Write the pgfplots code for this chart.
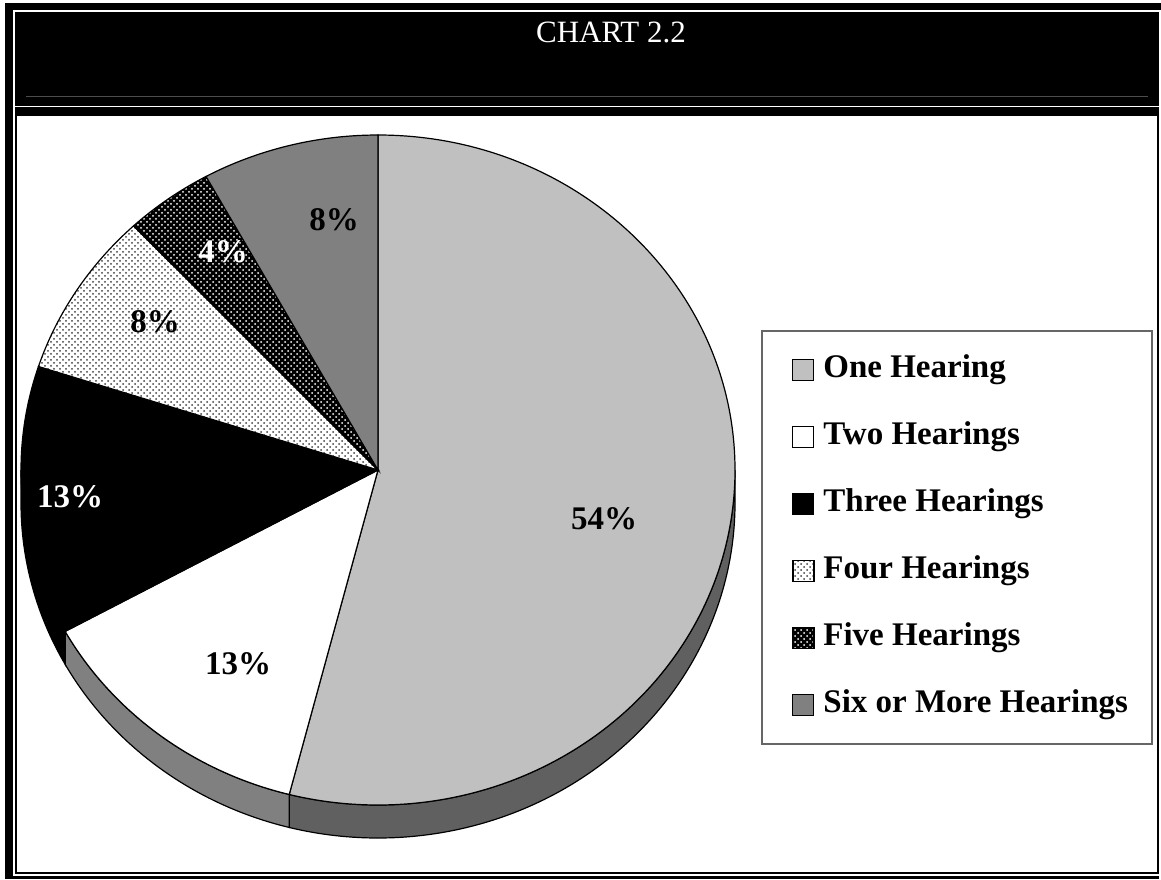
\documentclass[border=0pt]{standalone}
\usepackage{pgfplots}
\pgfplotsset{compat=1.18}
\usepackage{fontspec}
\setmainfont{Liberation Serif}
\usetikzlibrary{patterns}
\definecolor{one}{HTML}{C0C0C0}
\definecolor{six}{HTML}{808080}
\definecolor{oneside}{HTML}{606060}
\definecolor{twoside}{HTML}{808080}
\tikzset{
 s1/.style={fill=one},
 s2/.style={fill=white},
 s3/.style={fill=black},
 s4/.style={preaction={fill=white}, pattern=crosshatch dots, pattern color=black!75},
 s5/.style={preaction={fill=black}, pattern=crosshatch dots, pattern color=white},
 s6/.style={fill=six},
}
\newcommand\lbl{\fontsize{16.5}{19}\selectfont\bfseries}
\begin{document}
\begin{tikzpicture}
\begin{axis}[x=0.5pt,y=0.5pt,xmin=0,xmax=1161,ymin=0,ymax=879,y dir=reverse,hide axis,clip=false,
 legend image code/.code={\path[#1,draw=black,line width=0.5pt] (0pt,-5.25pt) rectangle (10.5pt,5.25pt);},
 legend style={draw=none, fill=none, at={(axis cs:792,354)}, anchor=north west, inner sep=0pt,
   row sep=18.2pt, column sep=4.5pt, font=\lbl,
   nodes={inner sep=0pt, text height=11.5pt, text depth=3.8pt}, cells={anchor=west}},
]
% frame
\fill[white] (axis cs:0,0) rectangle (axis cs:1161,879);
\fill[black] (axis cs:5,3) rectangle (axis cs:1159,878.5);
\fill[black] (axis cs:1159,3) rectangle (axis cs:1161,10);
\draw[white, line width=0.75pt] (axis cs:14,11) rectangle (axis cs:1160,875);
\draw[white, line width=0.75pt] (axis cs:14,106.5) -- (axis cs:1160,106.5);
\draw[black!70, line width=0.5pt] (axis cs:26,96) -- (axis cs:1148,96);
\fill[white] (axis cs:17,116) rectangle (axis cs:1157,872);
\node[white, anchor=base, font=\fontsize{15.5}{18}\selectfont] at (axis cs:611,42) {CHART 2.2};
% pie (values in percent, clockwise from 12 o'clock)
\pgfplotsextra{
\foreach \v/\st/\sc [remember=\cend as \cstart (initially 0)] in
   {54/s1/oneside, 13/s2/twoside, 13/s3/black, 8/s4/white, 4/s5/black, 8/s6/six}{
  \pgfmathsetmacro\cend{\cstart+\v}
  \pgfmathsetmacro\pa{90-3.6*\cstart}
  \pgfmathsetmacro\pb{90-3.6*\cend}
  \pgfmathsetmacro\qa{min(\pa,0)}
  \pgfmathsetmacro\qb{max(\pb,-180)}
  \ifdim\qa pt>\qb pt
    \filldraw[fill=\sc, draw=black, line width=0.6pt] (axis cs:378,470) ++(\qa:178.5pt and 167.5pt)
      arc[start angle=\qa, end angle=\qb, x radius=178.5pt, y radius=167.5pt]
      -- ++(0,-16.5pt)
      arc[start angle=\qb, end angle=\qa, x radius=178.5pt, y radius=167.5pt] -- cycle;
  \fi
  \path[\st, draw=black, line width=0.6pt] (axis cs:378,470) -- ++(\pa:178.5pt and 167.5pt)
      arc[start angle=\pa, end angle=\pb, x radius=178.5pt, y radius=167.5pt] -- cycle;
}
\node[font=\lbl] at (axis cs:604,519) {54\%};
\node[font=\lbl] at (axis cs:238,664) {13\%};
\node[font=\lbl, white] at (axis cs:70,497) {13\%};
\node[font=\lbl] at (axis cs:155,322) {8\%};
\node[font=\lbl, white] at (axis cs:223,252) {4\%};
\node[font=\lbl] at (axis cs:334,220) {8\%};
}
% legend box
\filldraw[fill=white, draw=black!60, line width=0.75pt] (axis cs:762,331) rectangle (axis cs:1152,744);
\addlegendimage{s1}\addlegendentry{One Hearing}
\addlegendimage{s2}\addlegendentry{Two Hearings}
\addlegendimage{s3}\addlegendentry{Three Hearings}
\addlegendimage{s4}\addlegendentry{Four Hearings}
\addlegendimage{s5}\addlegendentry{Five Hearings}
\addlegendimage{s6}\addlegendentry{Six or More Hearings}
\end{axis}
\end{tikzpicture}
\end{document}
